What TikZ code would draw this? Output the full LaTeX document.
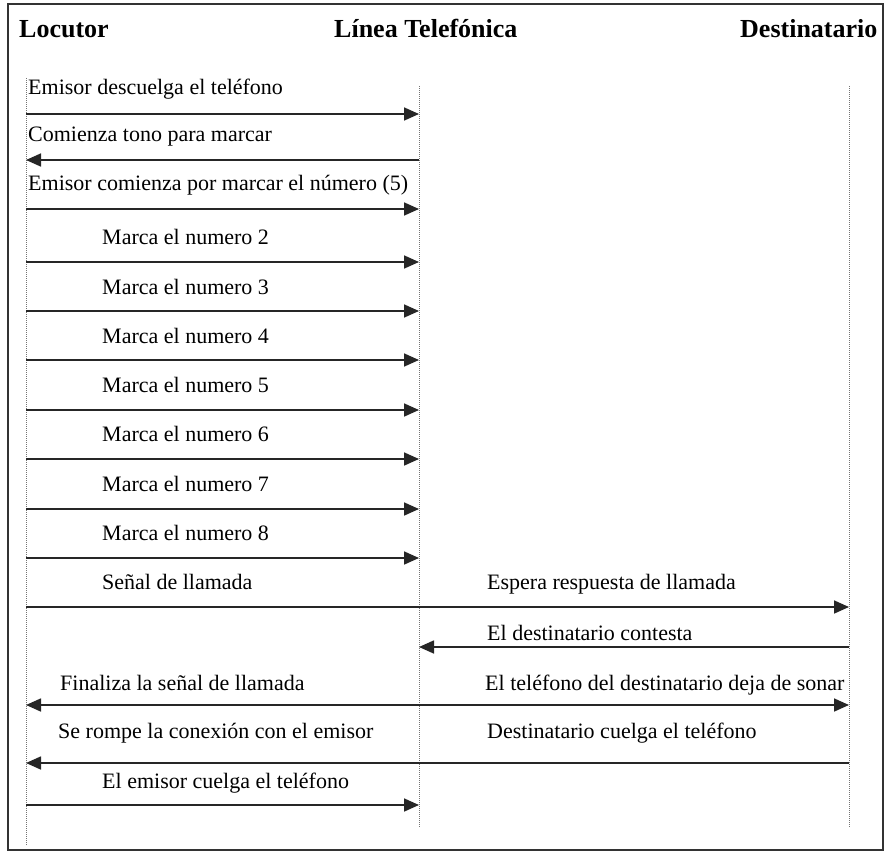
\documentclass[tikz,border=0pt]{standalone}
\usepackage{fontspec}
\setmainfont{Liberation Serif}
\usetikzlibrary{arrows.meta}
\begin{document}
\begin{tikzpicture}[x=1pt,y=-1pt,
  lifeline/.style={draw=black!55,line width=0.9pt,dash pattern=on 1pt off 1pt},
  msg/.style={draw=black!85,line width=1.7pt,-{Triangle[length=15pt,width=13pt]}},
  msgboth/.style={draw=black!85,line width=1.7pt,{Triangle[length=15pt,width=13pt]}-{Triangle[length=15pt,width=13pt]}},
  lbl/.style={anchor=base west,inner sep=0pt,font=\fontsize{22}{24}\selectfont},
  head/.style={anchor=base west,inner sep=0pt,font=\fontsize{26}{28}\selectfont\bfseries}]
\useasboundingbox (0,0) rectangle (887,857);
% outer frame
\draw[black!80,line width=1.4pt] (8,4) rectangle (883,850);
% participants
\node[head] (hloc) at (19,37) {Locutor};
\node[head] (hlin) at (334,37) {Línea Telefónica};
\node[head] (hdes) at (740,37) {Destinatario};
% lifelines
\coordinate (Ltop) at (26,78);  \coordinate (Lbot) at (26,846);
\coordinate (Mtop) at (419,86); \coordinate (Mbot) at (419,828);
\coordinate (Rtop) at (849,86); \coordinate (Rbot) at (849,828);
\draw[lifeline] (Ltop) -- (Lbot);
\draw[lifeline] (Mtop) -- (Mbot);
\draw[lifeline] (Rtop) -- (Rbot);
% row anchors on each lifeline
\foreach \i/\y in {1/114,2/160,3/209,4/262,5/311,6/360,7/410,8/459,9/509,10/558,11/607,12/647,13/705,14/763,15/805}{
  \coordinate (l\i) at (26,\y);
  \coordinate (m\i) at (419,\y);
  \coordinate (r\i) at (849,\y);
}
% messages
\node[lbl] (t1) at (28,94) {Emisor descuelga el teléfono};
\draw[msg] (l1) -- (m1);
\node[lbl] (t2) at (28,141) {Comienza tono para marcar};
\draw[msg] (m2) -- (l2);
\node[lbl] (t3) at (28,190) {Emisor comienza por marcar el número (5)};
\draw[msg] (l3) -- (m3);
\foreach \i/\n/\b in {4/2/244,5/3/294,6/4/343,7/5/392,8/6/441,9/7/491,10/8/540}{
  \node[lbl] (t\i) at (102,\b) {Marca el numero \n};
  \draw[msg] (l\i) -- (m\i);
}
\node[lbl] (t11a) at (102,589) {Señal de llamada};
\node[lbl] (t11b) at (487,589) {Espera respuesta de llamada};
\draw[msg] (l11) -- (r11);
\node[lbl] (t12) at (487,640) {El destinatario contesta};
\draw[msg] (r12) -- (m12);
\node[lbl] (t13a) at (60,690) {Finaliza la señal de llamada};
\node[lbl] (t13b) at (485,690) {El teléfono del destinatario deja de sonar};
\draw[msgboth] (l13) -- (r13);
\node[lbl] (t14a) at (58,738) {Se rompe la conexión con el emisor};
\node[lbl] (t14b) at (487,738) {Destinatario cuelga el teléfono};
\draw[msg] (r14) -- (l14);
\node[lbl] (t15) at (102,788) {El emisor cuelga el teléfono};
\draw[msg] (l15) -- (m15);
\end{tikzpicture}
\end{document}
